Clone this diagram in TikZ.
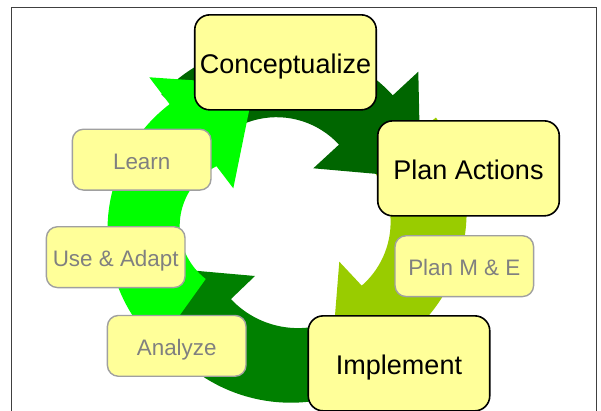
\documentclass[tikz,border=0pt]{standalone}
\usepackage{fontspec}
\setmainfont{Liberation Sans}
\usetikzlibrary{calc}
\definecolor{boxfill}{RGB}{255,255,153}
\definecolor{arrowBright}{RGB}{0,255,0}
\definecolor{arrowDark}{RGB}{0,102,0}
\definecolor{arrowLime}{RGB}{153,204,0}
\definecolor{arrowMid}{RGB}{0,128,0}
\definecolor{softgray}{RGB}{128,128,128}
\definecolor{edgegray}{RGB}{160,160,160}
\definecolor{framegray}{RGB}{64,64,64}
\begin{document}
\begin{tikzpicture}[x=1pt,y=1pt,
  bigstage/.style={draw=black, line width=1.6pt, fill=boxfill, rounded corners=15pt,
    minimum width=181.5pt, minimum height=95pt, inner sep=0pt,
    font=\fontsize{27}{32}\selectfont, text height=22.3pt, text depth=0pt},
  smallstage/.style={draw=edgegray, line width=1.4pt, fill=boxfill, rounded corners=11pt,
    minimum width=138.6pt, minimum height=60.8pt, inner sep=0pt, text=softgray,
    font=\fontsize{22.4}{27}\selectfont, text height=19pt, text depth=0pt}]
\useasboundingbox (0,0) rectangle (601,410);
\draw[framegray, line width=1pt] (11.7,-20) rectangle (596,402.7);

% arc centres
\coordinate (Cd) at (276.6,208.2);
\coordinate (Cyo) at (306,198);
\coordinate (Cyi) at (306,188);
\coordinate (Cbo) at (266,180);
\coordinate (Cbi) at (246.7,184);
\coordinate (Cgo) at (290.8,168);
\coordinate (Cgi) at (298,174);

% green arrow (bottom, pointing to Use & Adapt)
\fill[arrowMid] ($(Cgo)+(300:160.7)$) arc[start angle=300, end angle=223.74, radius=160.7]
  -- (152.1,35.2) -- (147.7,143.5) -- (255,134)
  -- ($(Cgi)+(223.24:92.1)$) arc[start angle=223.24, end angle=300, radius=92.1] -- cycle;
% lime arrow (right, pointing to Implement)
\fill[arrowLime] ($(Cyo)+(36:160.6)$) arc[start angle=36, end angle=-50.33, radius=160.6]
  -- (436.8,44.1) -- (330.7,40.9) -- (339.3,148.3)
  -- ($(Cyi)+(-48.79:84.6)$) arc[start angle=-48.79, end angle=40, radius=84.6] -- cycle;
% dark green arrow (top, pointing to Plan Actions)
\fill[arrowDark] ($(Cd)+(137:157.6)$) arc[start angle=137, end angle=42.5, radius=157.6]
  -- (418.3,338.3) -- (420.6,232.2) -- (313.3,241.7)
  -- ($(Cd)+(42.5:84.6)$) arc[start angle=42.5, end angle=137, radius=84.6] -- cycle;
% bright green arrow (left, pointing to Conceptualize)
\fill[arrowBright] ($(Cbo)+(226.96:158.5)$) arc[start angle=226.96, end angle=127.46, radius=158.5]
  -- (149.3,332.7) -- (254.4,325.5) -- (233.3,221.7)
  -- ($(Cbi)+(116.8:67)$) arc[start angle=116.8, end angle=232.3, radius=67] -- cycle;

\node[bigstage] (concept) at (285.5,347.65) {Conceptualize};
\node[bigstage] (planact) at (468.5,241.65) {Plan Actions};
\node[bigstage] (implement) at (399,46.65) {Implement};
\node[smallstage] (learn) at (141.7,250.35) {Learn};
\node[smallstage] (useadapt) at (115.7,152.85) {Use \& Adapt};
\node[smallstage] (planme) at (464.3,143.85) {Plan M \& E};
\node[smallstage] (analyze) at (176.7,64.15) {Analyze};
\end{tikzpicture}
\end{document}
